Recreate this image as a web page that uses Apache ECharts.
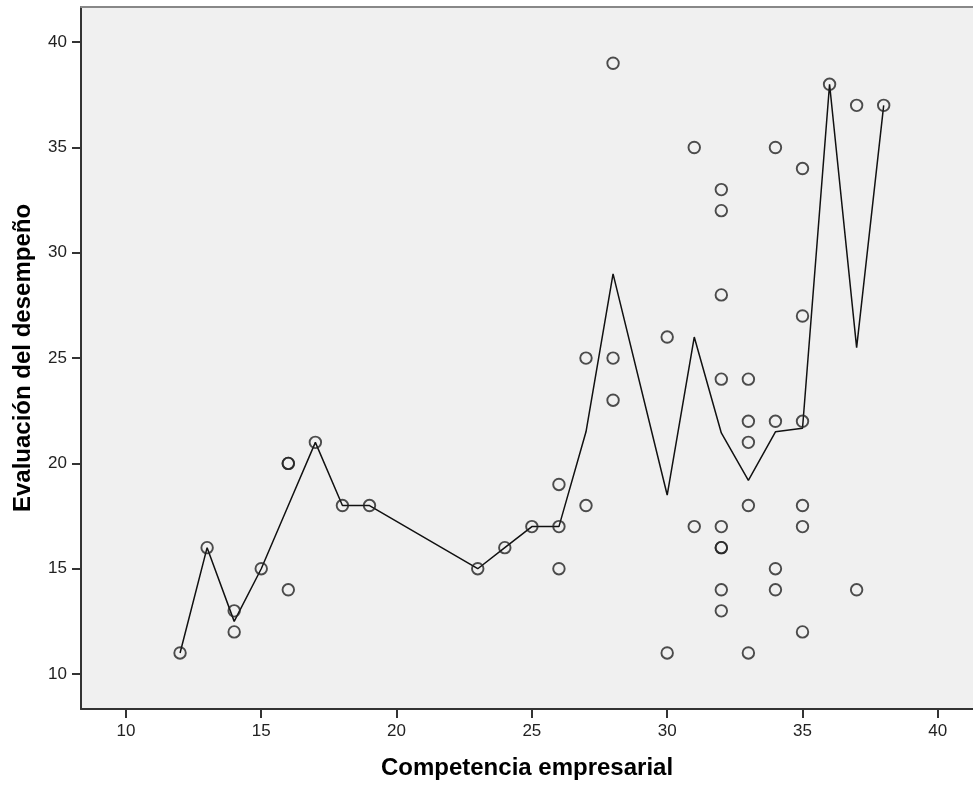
<!DOCTYPE html>
<html>
<head>
<meta charset="utf-8">
<script src="https://cdn.jsdelivr.net/npm/echarts@6/dist/echarts.min.js"></script>
<style>
  html, body { margin: 0; padding: 0; background: #ffffff; }
  #chart { width: 973px; height: 785px; }
</style>
</head>
<body>
<div id="chart"></div>
<script>
// Competencia empresarial (x) and Evaluación del desempeño (y), one entry per case
const competencia = [
  12, 13, 14, 14, 15, 16, 16, 16, 17, 18, 19, 23, 24, 25, 26, 26, 26,
  27, 27, 28, 28, 28, 30, 30, 31, 31,
  32, 32, 32, 32, 32, 32, 32, 32, 32,
  33, 33, 33, 33, 33,
  34, 34, 34, 34,
  35, 35, 35, 35, 35, 35,
  36, 37, 37, 38
];
const evaluacion = [
  11, 16, 13, 12, 15, 20, 20, 14, 21, 18, 18, 15, 16, 17, 19, 17, 15,
  25, 18, 39, 25, 23, 26, 11, 35, 17,
  33, 32, 28, 24, 17, 16, 16, 14, 13,
  24, 22, 21, 18, 11,
  35, 22, 15, 14,
  34, 27, 22, 18, 17, 12,
  38, 37, 14, 37
];
const tickValues = [10, 15, 20, 25, 30, 35, 40];

// scatter points
const points = competencia.map((x, i) => [x, evaluacion[i]]);

// mean of the evaluation for each competence score, joined by a line
const groups = {};
competencia.forEach((x, i) => {
  (groups[x] = groups[x] || []).push(evaluacion[i]);
});
const meanLine = Object.keys(groups)
  .map(Number)
  .sort((a, b) => a - b)
  .map(x => [x, groups[x].reduce((s, v) => s + v, 0) / groups[x].length]);

const FONT = '"Liberation Sans", Arial, sans-serif';

const chart = echarts.init(document.getElementById('chart'), null, { renderer: 'canvas' });

chart.setOption({
  animation: false,
  backgroundColor: '#ffffff',
  grid: {
    left: 81, right: 0, top: 7, bottom: 75,
    show: true, backgroundColor: '#f0f0f0', borderWidth: 0
  },
  xAxis: [{
    type: 'value',
    min: 8.34, max: 41.3,
    name: 'Competencia empresarial',
    nameLocation: 'middle',
    nameGap: 47,
    nameTextStyle: { fontFamily: FONT, fontWeight: 'bold', fontSize: 24, color: '#000' },
    axisLine: { show: true, onZero: false, lineStyle: { color: '#333', width: 2 } },
    axisTick: { show: true, length: 9, customValues: tickValues, lineStyle: { color: '#333', width: 2 } },
    axisLabel: { customValues: tickValues, margin: 14, fontFamily: FONT, fontSize: 17, color: '#222' },
    splitLine: { show: false }
  }, {
    type: 'value',
    position: 'top',
    min: 8.34, max: 41.3,
    axisLine: { show: true, onZero: false, lineStyle: { color: '#888', width: 2 } },
    axisTick: { show: false },
    axisLabel: { show: false },
    splitLine: { show: false }
  }],
  yAxis: {
    type: 'value',
    min: 8.34, max: 41.67,
    name: 'Evaluación del desempeño',
    nameLocation: 'middle',
    nameGap: 46,
    nameTextStyle: { fontFamily: FONT, fontWeight: 'bold', fontSize: 24, color: '#000' },
    axisLine: { show: true, onZero: false, lineStyle: { color: '#333', width: 2 } },
    axisTick: { show: true, length: 9, customValues: tickValues, lineStyle: { color: '#333', width: 2 } },
    axisLabel: { customValues: tickValues, margin: 14, fontFamily: FONT, fontSize: 17, color: '#222' },
    splitLine: { show: false }
  },
  series: [{
    type: 'line',
    xAxisIndex: 0,
    data: meanLine,
    showSymbol: false,
    symbol: 'none',
    lineStyle: { color: '#111', width: 1.5 },
    z: 2
  }, {
    type: 'scatter',
    xAxisIndex: 0,
    data: points,
    symbol: 'circle',
    symbolSize: 11.5,
    itemStyle: { color: 'rgba(0,0,0,0)', borderColor: '#222', borderWidth: 1.9 },
    z: 3
  }]
});
</script>
</body>
</html>
